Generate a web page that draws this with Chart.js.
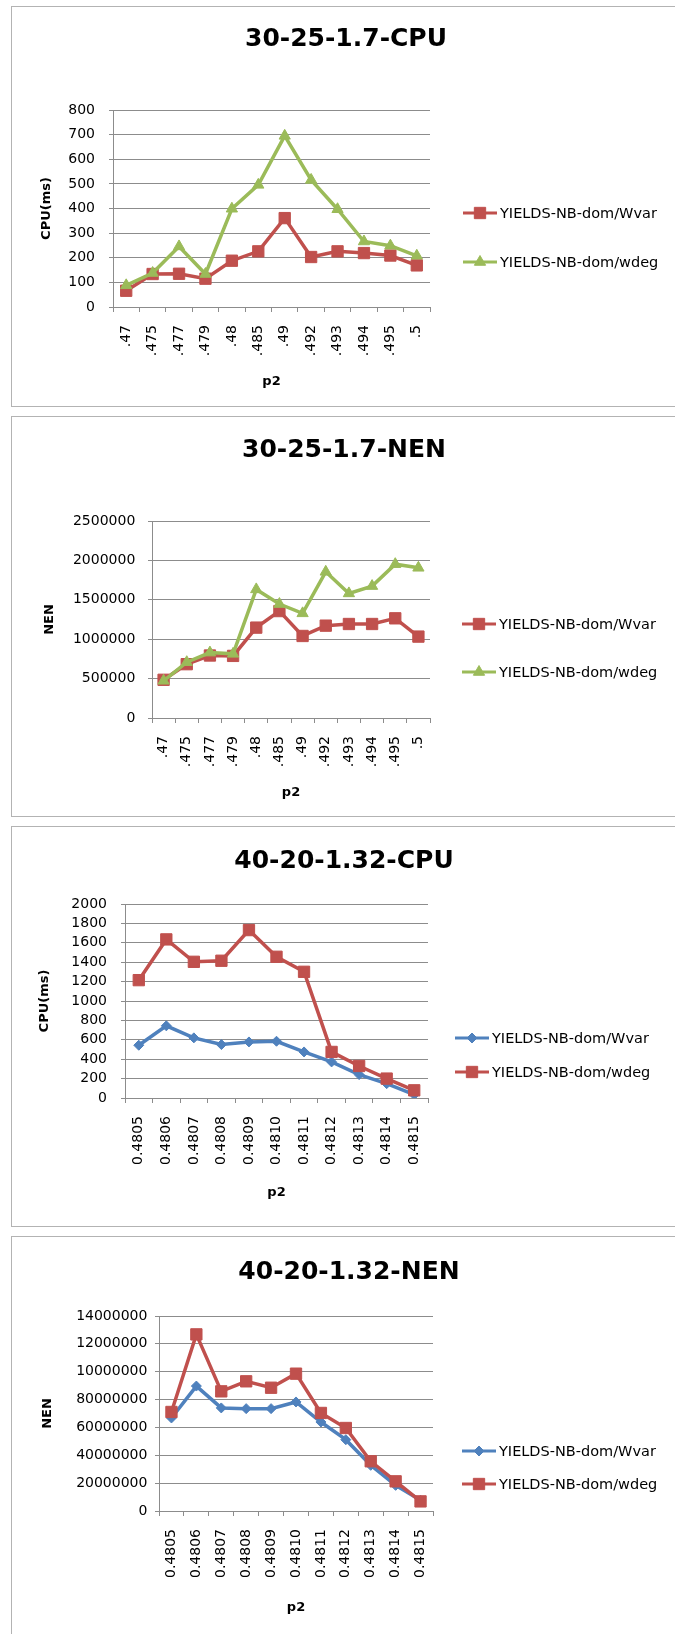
<!DOCTYPE html>
<html>
<head>
<meta charset="utf-8">
<script src="https://cdn.jsdelivr.net/npm/chart.js@4.4.1/dist/chart.umd.min.js"></script>
<style>
  html, body { margin: 0; padding: 0; background: #fff; overflow: hidden; }
  body { width: 675px; height: 1634px; position: relative; }
  .panel { position: absolute; left: 11px; width: 680px; height: 399px; border: 1.5px solid #b3b3b3; }
  canvas { position: absolute; left: 0; }
</style>
</head>
<body>
<div class="panel" style="top:6px"></div>
<div class="panel" style="top:416px"></div>
<div class="panel" style="top:826px"></div>
<div class="panel" style="top:1236px"></div>
<canvas id="c1" width="675" height="410" style="top:0px"></canvas>
<canvas id="c2" width="675" height="410" style="top:410px"></canvas>
<canvas id="c3" width="675" height="410" style="top:820px"></canvas>
<canvas id="c4" width="675" height="410" style="top:1230px"></canvas>
<script>
// categories (p2)
var p2LabelsA = ['.47', '.475', '.477', '.479', '.48', '.485', '.49', '.492', '.493', '.494', '.495', '.5'];
var p2LabelsB = ['0.4805', '0.4806', '0.4807', '0.4808', '0.4809', '0.4810', '0.4811', '0.4812', '0.4813', '0.4814', '0.4815'];

// 30-25-1.7
var cpuA_wvar = [66, 134, 135, 115, 188, 226, 361, 203, 226, 219, 209, 169];
var cpuA_wdeg = [88, 138, 246, 134, 399, 496, 695, 516, 397, 266, 249, 208];
var nenA_wvar = [485000, 683000, 793000, 788000, 1147000, 1357000, 1041000, 1172000, 1193000, 1193000, 1265000, 1033000];
var nenA_wdeg = [472000, 708000, 830000, 814000, 1632000, 1446000, 1328000, 1855000, 1581000, 1674000, 1952000, 1906000];

// 40-20-1.32
var cpuB_wvar = [544, 744, 620, 551, 578, 585, 475, 372, 241, 148, 34];
var cpuB_wdeg = [1215, 1635, 1404, 1415, 1731, 1456, 1301, 475, 330, 200, 79];
var nenB_wvar = [6680000, 8970000, 7400000, 7350000, 7350000, 7830000, 6390000, 5120000, 3280000, 1840000, 770000];
var nenB_wdeg = [7110000, 12680000, 8590000, 9310000, 8850000, 9860000, 7040000, 5960000, 3570000, 2130000, 690000];

// y tick labels, bottom to top
var cpuTicksA = ['0', '100', '200', '300', '400', '500', '600', '700', '800'];
var nenTicksA = ['0', '500000', '1000000', '1500000', '2000000', '2500000'];
var cpuTicksB = ['0', '200', '400', '600', '800', '1000', '1200', '1400', '1600', '1800', '2000'];
var nenTicksB = ['0', '20000000', '40000000', '60000000', '80000000', '10000000', '12000000', '14000000'];
var nenMaxB = 14000000;

var RED = '#c0504d', GREEN = '#9bbb59', BLUE = '#4f81bd', GRID = '#8c8c8c';
var FONT = "'DejaVu Sans'";

Chart.defaults.font.family = FONT;
Chart.defaults.color = '#000';

// title + legend (line with marker) drawn beside the plot
var decor = {
  id: 'decor',
  afterDraw: function(chart, args, o) {
    var ctx = chart.ctx;
    ctx.save();
    ctx.fillStyle = '#000';
    ctx.font = 'bold 25px ' + FONT;
    ctx.textAlign = 'center';
    ctx.textBaseline = 'middle';
    ctx.fillText(o.title, o.titleX, o.titleY);
    ctx.font = '14.5px ' + FONT;
    ctx.textAlign = 'left';
    chart.data.datasets.forEach(function(ds, i) {
      var y = o.legendY[i];
      ctx.strokeStyle = ds.borderColor;
      ctx.lineWidth = 3;
      ctx.beginPath();
      ctx.moveTo(o.legendX, y);
      ctx.lineTo(o.legendX + 34, y);
      ctx.stroke();
      ctx.fillStyle = ds.backgroundColor;
      ctx.lineWidth = 1;
      Chart.helpers.drawPoint(ctx, {pointStyle: ds.pointStyle, radius: ds.pointRadius, borderWidth: 1, rotation: 0}, o.legendX + 17, y);
      ctx.fillStyle = '#000';
      ctx.fillText(ds.label, o.legendX + 37, y + 1);
    });
    ctx.restore();
  }
};

function series(label, data, color, style, radius, order) {
  return {
    label: label, data: data, order: order,
    borderColor: color, backgroundColor: color,
    borderWidth: 3.5, tension: 0,
    pointStyle: style, pointRadius: radius, pointHoverRadius: radius,
    pointBorderWidth: 1, pointBorderColor: color, pointBackgroundColor: color
  };
}

function makeChart(id, c) {
  var maxV = c.max || Number(c.ticks[c.ticks.length - 1]);
  var step = maxV / (c.ticks.length - 1);
  return new Chart(document.getElementById(id), {
    type: 'line',
    data: { labels: c.labels, datasets: c.datasets },
    plugins: [decor],
    options: {
      responsive: false,
      animation: false,
      layout: { padding: c.pad },
      plugins: {
        legend: { display: false },
        title: { display: false },
        tooltip: { enabled: false },
        decor: c.decor
      },
      scales: {
        x: {
          offset: true,
          grid: { offset: true, drawOnChartArea: false, drawTicks: true, tickLength: 5, color: GRID },
          border: { color: GRID, width: 1 },
          ticks: { autoSkip: false, minRotation: 90, maxRotation: 90, padding: 13, font: { size: 14 }, color: '#000' },
          title: { display: true, text: 'p2', font: { size: 13, weight: 'bold' }, padding: { top: 0, bottom: 4 }, color: '#000' },
          afterFit: function(s) { s.height = c.xH; }
        },
        y: {
          min: 0, max: maxV,
          grid: { color: GRID, lineWidth: 1, tickLength: 4 },
          border: { color: GRID, width: 1 },
          ticks: {
            autoSkip: false, stepSize: step, padding: c.tickPad, font: { size: 14 }, color: '#000',
            callback: function(v, i) { return c.ticks[i]; }
          },
          title: { display: true, text: c.yTitle, font: { size: 13, weight: 'bold' }, padding: 0, color: '#000' },
          afterFit: function(s) { s.width = c.yW; }
        }
      }
    }
  });
}

makeChart('c1', {
  labels: p2LabelsA, ticks: cpuTicksA, yTitle: 'CPU(ms)',
  datasets: [
    series('YIELDS-NB-dom/Wvar', cpuA_wvar, RED, 'rect', 8, 2),
    series('YIELDS-NB-dom/wdeg', cpuA_wdeg, GREEN, 'triangle', 6.5, 1)
  ],
  pad: { left: 39.2, top: 110, right: 245, bottom: 16.2 }, yW: 73.8, xH: 86.8, tickPad: 14,
  decor: { title: '30-25-1.7-CPU', titleX: 346, titleY: 39, legendX: 463, legendY: [213, 262] }
});

makeChart('c2', {
  labels: p2LabelsA, ticks: nenTicksA, yTitle: 'NEN',
  datasets: [
    series('YIELDS-NB-dom/Wvar', nenA_wvar, RED, 'rect', 8, 2),
    series('YIELDS-NB-dom/wdeg', nenA_wdeg, GREEN, 'triangle', 6.5, 1)
  ],
  pad: { left: 41.7, top: 111, right: 245, bottom: 15.5 }, yW: 110.3, xH: 86.5, tickPad: 12.7,
  decor: { title: '30-25-1.7-NEN', titleX: 344, titleY: 40, legendX: 462, legendY: [214, 262] }
});

makeChart('c3', {
  labels: p2LabelsB, ticks: cpuTicksB, yTitle: 'CPU(ms)',
  datasets: [
    series('YIELDS-NB-dom/Wvar', cpuB_wvar, BLUE, 'rectRot', 5, 2),
    series('YIELDS-NB-dom/wdeg', cpuB_wdeg, RED, 'rect', 8, 1)
  ],
  pad: { left: 37.2, top: 84, right: 247, bottom: 25.2 }, yW: 87.8, xH: 106.8, tickPad: 14,
  decor: { title: '40-20-1.32-CPU', titleX: 344, titleY: 41, legendX: 455, legendY: [218, 252] }
});

makeChart('c4', {
  labels: p2LabelsB, ticks: nenTicksB, max: nenMaxB, yTitle: 'NEN',
  datasets: [
    series('YIELDS-NB-dom/Wvar', nenB_wvar, BLUE, 'rectRot', 5, 2),
    series('YIELDS-NB-dom/wdeg', nenB_wdeg, RED, 'rect', 8, 1)
  ],
  pad: { left: 40.2, top: 86, right: 242, bottom: 20.5 }, yW: 118.8, xH: 108.5, tickPad: 7.6,
  decor: { title: '40-20-1.32-NEN', titleX: 349, titleY: 42, legendX: 462, legendY: [221, 254] }
});
</script>
</body>
</html>
